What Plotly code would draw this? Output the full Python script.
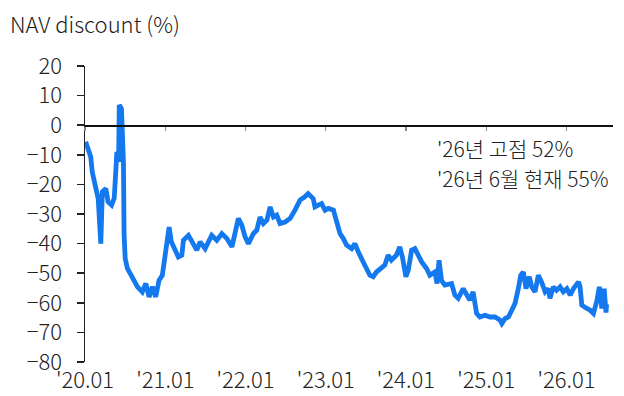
import plotly.graph_objects as go

dates = [
    "2020-01-04", "2020-01-19", "2020-01-27", "2020-02-03", "2020-02-19", "2020-03-01",
    "2020-03-13", "2020-03-20", "2020-04-05", "2020-04-15", "2020-05-01", "2020-05-13",
    "2020-05-21", "2020-05-25", "2020-06-02", "2020-06-05", "2020-06-15", "2020-06-20",
    "2020-06-24", "2020-06-27", "2020-07-02", "2020-07-12", "2020-08-04", "2020-08-27",
    "2020-09-18", "2020-10-04", "2020-10-19", "2020-11-03", "2020-11-18", "2020-12-03",
    "2020-12-18", "2021-01-03", "2021-01-18", "2021-01-28", "2021-02-14", "2021-03-01",
    "2021-03-17", "2021-03-24", "2021-04-16", "2021-05-01", "2021-05-24", "2021-06-08",
    "2021-07-01", "2021-07-31", "2021-08-23", "2021-09-15", "2021-10-08", "2021-10-31",
    "2021-11-14", "2021-11-29", "2021-12-15", "2021-12-30", "2022-01-14", "2022-02-06",
    "2022-02-21", "2022-03-08", "2022-03-23", "2022-04-08", "2022-04-23", "2022-05-08",
    "2022-05-23", "2022-06-07", "2022-06-30", "2022-07-23", "2022-08-14", "2022-09-06",
    "2022-09-28", "2022-10-13", "2022-11-05", "2022-11-13", "2022-11-28", "2022-12-13",
    "2022-12-29", "2023-01-13", "2023-02-05", "2023-02-20", "2023-03-07", "2023-03-22",
    "2023-04-06", "2023-04-29", "2023-05-14", "2023-05-29", "2023-06-13", "2023-06-28",
    "2023-07-21", "2023-08-05", "2023-08-20", "2023-09-12", "2023-09-27", "2023-10-12",
    "2023-10-27", "2023-11-19", "2023-12-04", "2023-12-16", "2024-01-01", "2024-01-12",
    "2024-01-27", "2024-02-11", "2024-02-26", "2024-03-13", "2024-04-04", "2024-04-19",
    "2024-05-12", "2024-05-22", "2024-05-31", "2024-06-11", "2024-06-26", "2024-07-27",
    "2024-08-11", "2024-08-26", "2024-09-18", "2024-10-03", "2024-10-18", "2024-11-02",
    "2024-11-18", "2024-12-03", "2024-12-26", "2025-01-18", "2025-02-10", "2025-03-05",
    "2025-03-13", "2025-03-28", "2025-04-12", "2025-04-27", "2025-05-12", "2025-05-27",
    "2025-06-07", "2025-06-19", "2025-07-01", "2025-07-16", "2025-07-27", "2025-08-11",
    "2025-08-26", "2025-09-10", "2025-09-26", "2025-10-11", "2025-10-18", "2025-11-02",
    "2025-11-17", "2025-12-03", "2025-12-18", "2026-01-03", "2026-01-18", "2026-02-02",
    "2026-02-25", "2026-03-04", "2026-03-12", "2026-04-04", "2026-04-19", "2026-05-04",
    "2026-05-19", "2026-05-31", "2026-06-11", "2026-06-22", "2026-06-30", "2026-07-03",
]
nav_discount = [
    -5.6, -9.0, -10.7, -15.8, -20.3, -24.8,
    -40.0, -22.5, -21.4, -25.9, -27.0, -24.7,
    -14.5, -9.0, -12.4, 6.8, 5.6, -3.4,
    -12.4, -37.0, -45.0, -48.4, -51.2, -54.6,
    -56.3, -53.5, -58.0, -54.6, -58.0, -52.4,
    -50.7, -42.8, -34.4, -39.4, -42.2, -44.5,
    -43.9, -38.9, -37.2, -39.4, -42.2, -39.4,
    -41.7, -37.2, -38.9, -36.6, -38.3, -41.1,
    -35.5, -31.5, -33.8, -37.7, -40.0, -36.6,
    -35.5, -31.0, -33.2, -32.1, -27.6, -31.0,
    -30.4, -33.2, -32.7, -31.5, -28.7, -25.3,
    -24.2, -23.1, -24.8, -27.6, -27.0, -26.5,
    -28.7, -28.1, -28.7, -32.1, -36.6, -38.3,
    -40.5, -41.7, -40.0, -42.8, -45.6, -47.3,
    -50.7, -51.2, -49.6, -48.4, -47.3, -43.9,
    -45.6, -43.9, -41.1, -44.5, -51.2, -49.0,
    -42.2, -41.7, -43.9, -46.2, -48.4, -50.7,
    -49.6, -53.5, -45.6, -52.4, -54.0, -53.5,
    -57.4, -58.5, -55.2, -56.9, -59.1, -56.3,
    -63.6, -64.8, -64.2, -64.8, -64.8, -65.9,
    -67.0, -65.3, -64.8, -62.5, -60.2, -55.2,
    -50.7, -49.6, -55.2, -51.2, -54.6, -56.3,
    -50.7, -53.0, -56.3, -55.2, -58.5, -54.6,
    -55.8, -54.6, -56.3, -55.2, -57.4, -55.2,
    -53.0, -54.6, -60.8, -61.9, -62.5, -63.6,
    -59.5, -54.6, -61.9, -55.2, -63.3, -60.5,
]

x_tickvals = ["2020-01-01", "2021-01-01", "2022-01-01", "2023-01-01",
              "2024-01-01", "2025-01-01", "2026-01-01"]
x_ticktext = ["'20.01", "'21.01", "'22.01", "'23.01", "'24.01", "'25.01", "'26.01"]
y_tickvals = [20, 10, 0, -10, -20, -30, -40, -50, -60, -70, -80]

title_text = "NAV discount (%)"
note_lines = ["'26년 고점 52%", "'26년 6월 현재 55%"]
note_y = [-7.8, -17.9]

FONT = "Noto Sans CJK KR Light, Noto Sans CJK KR"
TXT = "#222222"
x_range = ["2020-01-01", "2026-08-01"]
y_range = [-80, 20]

fig = go.Figure()
fig.add_trace(go.Scatter(
    x=dates, y=nav_discount, mode="lines",
    line=dict(color="#1479EE", width=4.8),
    hoverinfo="skip", showlegend=False,
))
# invisible helper trace on the zero-line axis
fig.add_trace(go.Scatter(
    x=[dates[0]], y=[0], xaxis="x2", mode="lines",
    line=dict(width=0), hoverinfo="skip", showlegend=False,
))

for txt, yy in zip(note_lines, note_y):
    fig.add_annotation(
        text=txt, xref="paper", x=(435 - 85) / 528, xanchor="left",
        yref="y", y=yy, yanchor="middle", showarrow=False,
        font=dict(family=FONT, size=21, color=TXT, weight=300),
    )

fig.add_annotation(
    text=title_text, xref="paper", x=(8 - 85) / 528, xanchor="left",
    yref="paper", y=(362 - 23) / 296, yanchor="middle", showarrow=False,
    font=dict(family=FONT, size=22, color=TXT, weight=300),
)

fig.update_layout(
    width=624, height=396,
    margin=dict(l=85, r=11, t=66, b=34, pad=0, autoexpand=False),
    paper_bgcolor="white", plot_bgcolor="white",
    font=dict(family=FONT, size=22, color=TXT, weight=300),
    xaxis=dict(
        type="date", range=x_range, automargin=False,
        tickvals=x_tickvals, ticktext=x_ticktext,
        showgrid=False, zeroline=False, showline=False, ticks="",
        ticklabelstandoff=3,
        tickfont=dict(family=FONT, size=22, color=TXT, weight=300),
    ),
    xaxis2=dict(
        type="date", range=x_range, overlaying="x", anchor="free", position=0.8,
        side="bottom", tickvals=x_tickvals, showticklabels=False, automargin=False,
        showgrid=False, zeroline=False,
        showline=True, linecolor="#111111", linewidth=1.5,
        ticks="outside", ticklen=4, tickcolor="#888888", tickwidth=1.5,
    ),
    yaxis=dict(
        range=y_range, tickvals=y_tickvals, automargin=False,
        showgrid=False, zeroline=False,
        showline=True, linecolor="#222222", linewidth=1.5,
        ticks="outside", ticklen=7, tickcolor="#222222", tickwidth=1.5,
        ticklabelstandoff=10,
        tickfont=dict(family=FONT, size=22, color=TXT, weight=300),
    ),
)

fig.write_html(
    "out.html",
    config={"displayModeBar": False, "staticPlot": True},
    post_script="document.body.style.margin='0';document.body.style.overflow='hidden';",
)
